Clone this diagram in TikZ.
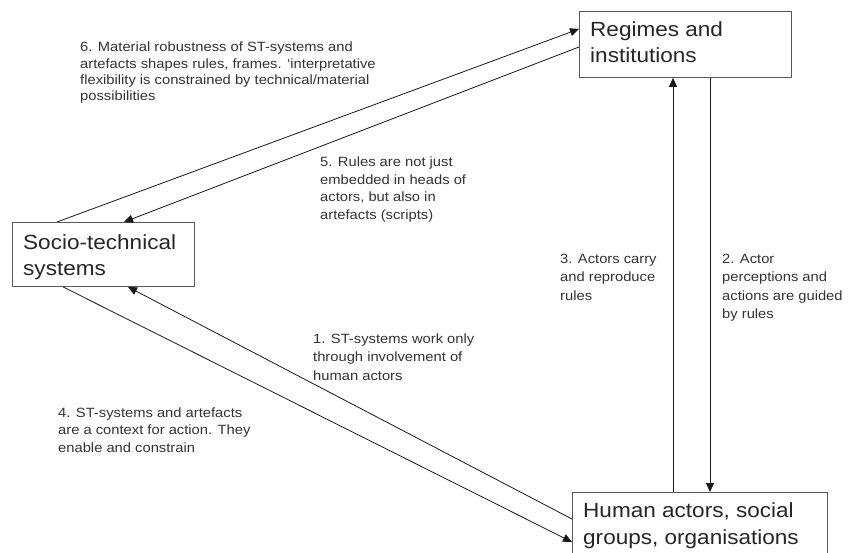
\documentclass[tikz,border=0pt]{standalone}
\usepackage{fontspec}
\setmainfont{Liberation Sans}[FakeStretch=1.1]
\usetikzlibrary{arrows.meta}
\begin{document}
\begin{tikzpicture}[x=1pt,y=-1pt,
  box/.style={draw=black!65, line width=0.9pt, anchor=north west, inner sep=0pt},
  boxtext/.style={anchor=base west, inner sep=0pt, align=left,
    font=\fontsize{20.5}{26}\selectfont, text=black!85},
  note/.style={anchor=base west, inner sep=0pt, align=left, text=black!80},
  link/.style={draw=black!90, line width=0.8pt},
  arr/.style={link, -{Triangle[length=9pt,width=8pt]}}]
\clip (0,0) rectangle (853,553);
\fill[white] (0,0) rectangle (853,553);
% boxes
\node[box, minimum width=212pt, minimum height=66pt] (reg) at (579,11) {};
\node[boxtext] (regt) at (590,63) {Regimes and\\institutions};
\node[box, minimum width=182pt, minimum height=64pt] (soc) at (12,222) {};
\node[boxtext, font=\fontsize{20.5}{25}\selectfont] (soct) at (23,275) {Socio-technical\\systems};
\node[box, minimum width=255pt, minimum height=70pt] (hum) at (572,492) {};
\node[boxtext, font=\fontsize{20.5}{27}\selectfont] (humt) at (583,544) {Human actors, social\\groups, organisations};
% connectors
\draw[arr] ([xshift=45pt]soc.north west) -- ([yshift=-18pt]reg.north west);
\draw[arr] ([yshift=-36pt]reg.north west) -- ([xshift=112pt]soc.north west);
\draw[arr] ([yshift=-27pt]hum.north west) -- ([xshift=116pt]soc.south west);
\draw[arr] ([xshift=51pt]soc.south west) -- ([yshift=-50pt]hum.north west);
\draw[arr] ([xshift=101pt]hum.north west) -- ([xshift=94pt]reg.south west);
\draw[arr] ([xshift=131pt]reg.south west) -- ([xshift=138pt]hum.north west);
% notes
\node[note, font=\fontsize{13.4}{16.2}\selectfont] (n6) at (80,100.6) {6. Material robustness of ST-systems and\\artefacts shapes rules, frames. `interpretative\\flexibility is constrained by technical/material\\possibilities};
\node[note, font=\fontsize{13.4}{17.5}\selectfont] (n5) at (320,219.5) {5. Rules are not just\\embedded in heads of\\actors, but also in\\artefacts (scripts)};
\node[note, font=\fontsize{13.4}{18.5}\selectfont] (n3) at (560,300) {3. Actors carry\\and reproduce\\rules};
\node[note, font=\fontsize{13.4}{18.5}\selectfont] (n2) at (722,318.5) {2. Actor\\perceptions and\\actions are guided\\by rules};
\node[note, font=\fontsize{13.4}{18.5}\selectfont] (n1) at (313,380) {1. ST-systems work only\\through involvement of\\human actors};
\node[note, font=\fontsize{13.4}{17.5}\selectfont] (n4) at (58,452) {4. ST-systems and artefacts\\are a context for action. They\\enable and constrain};
\end{tikzpicture}
\end{document}
